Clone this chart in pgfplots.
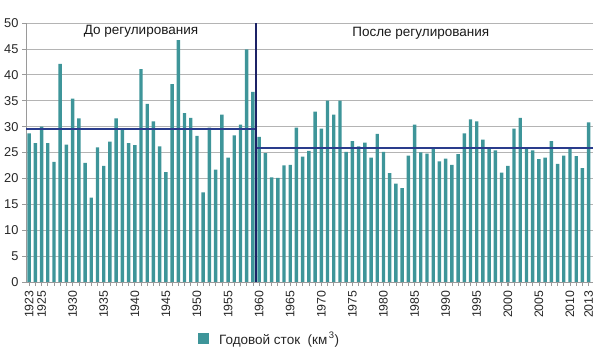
\documentclass[border=0pt]{standalone}
\usepackage{pgfplots}
\pgfplotsset{compat=1.18}
\usepackage{fontspec}
\setmainfont{Liberation Sans}
\definecolor{barcol}{HTML}{3E9599}
\definecolor{meanline}{HTML}{2A3C8C}
\definecolor{vline}{HTML}{1C2266}
\definecolor{gridc}{HTML}{B4B4B4}
\definecolor{axisc}{HTML}{9A9A9A}
\begin{document}
\begin{tikzpicture}
\useasboundingbox (-26pt,-73pt) rectangle (574pt,282pt);
\begin{axis}[
  at={(0,0)}, anchor=south west,
  scale only axis, width=567pt, height=259pt,
  xmin=1922.5, xmax=2013.7, ymin=0, ymax=50,
  ytick={0,5,...,50},
  xtick={1923,1925,1930,...,2010,2013},
  minor xtick={1923,...,2013},
  axis x line*=bottom, axis y line*=left,
  axis line style={axisc, line width=0.8pt, -},
  tick align=outside,
  major tick length=4pt, minor tick length=4pt,
  tick style={axisc, line width=0.6pt},
  ymajorgrids, grid style={gridc, line width=0.7pt},
  /pgf/number format/assume math mode=true,
  x tick label style={rotate=90, anchor=east, /pgf/number format/1000 sep={}, font=\fontsize{12.3}{14}\selectfont, text=black!85, xshift=-1pt},
  y tick label style={font=\fontsize{12.8}{14}\selectfont, text=black!85},
  legend style={at={(0.298,-0.22)}, anchor=west, draw=none, fill=none, font=\fontsize{13.5}{15}\selectfont, text=black!85},
  legend cell align=left,
  clip=false,
]
\addplot[ybar, bar width=0.55, fill=barcol, draw=none,
  legend image code/.code={\fill[barcol] (0pt,-5.5pt) rectangle (11pt,5.5pt); \path (19pt,0pt);}]
table {
x y
1923 28.7
1924 26.8
1925 30.0
1926 26.8
1927 23.2
1928 42.1
1929 26.5
1930 35.4
1931 31.6
1932 23.0
1933 16.3
1934 26.0
1935 22.4
1936 27.1
1937 31.6
1938 29.7
1939 26.8
1940 26.4
1941 41.1
1942 34.4
1943 31.0
1944 26.2
1945 21.2
1946 38.2
1947 46.7
1948 32.6
1949 31.7
1950 28.2
1951 17.3
1952 29.8
1953 21.7
1954 32.3
1955 24.0
1956 28.3
1957 30.4
1958 44.9
1959 36.7
1960 28.0
1961 24.9
1962 20.2
1963 20.1
1964 22.5
1965 22.6
1966 29.8
1967 24.2
1968 25.3
1969 32.9
1970 29.6
1971 35.0
1972 32.3
1973 35.0
1974 25.1
1975 27.2
1976 26.2
1977 26.9
1978 24.0
1979 28.6
1980 25.1
1981 21.0
1982 19.0
1983 18.1
1984 24.4
1985 30.4
1986 25.0
1987 24.8
1988 25.9
1989 23.3
1990 23.8
1991 22.6
1992 24.7
1993 28.7
1994 31.4
1995 31.0
1996 27.5
1997 25.9
1998 25.4
1999 21.1
2000 22.4
2001 29.6
2002 31.7
2003 25.9
2004 25.4
2005 23.7
2006 24.0
2007 27.2
2008 22.8
2009 24.4
2010 25.9
2011 24.3
2012 22.0
2013 30.8
};
\addlegendentry{Годовой сток~~(км\textsuperscript{\,3})}
\addplot[sharp plot, no marks, meanline, line width=1.4pt, forget plot] coordinates {(1922.5,29.5) (1959.5,29.5)};
\addplot[sharp plot, no marks, meanline, line width=1.4pt, forget plot] coordinates {(1959.5,25.9) (2013.7,25.9)};
\addplot[sharp plot, no marks, vline, line width=1.1pt, forget plot] coordinates {(1959.5,0) (1959.5,50)};
\node[font=\fontsize{13.5}{15}\selectfont, text=black!90] at (axis cs:1941,48.4) {До регулирования};
\node[font=\fontsize{13.5}{15}\selectfont, text=black!90] at (axis cs:1986,48.1) {После регулирования};
\end{axis}
\end{tikzpicture}
\end{document}
